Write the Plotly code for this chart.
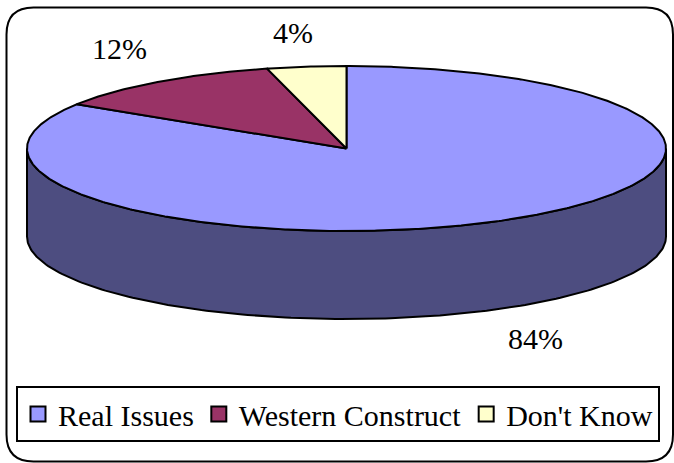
import numpy as np
import plotly.graph_objects as go

categories = ["Real Issues", "Western Construct", "Don't Know"]
values = [84, 12, 4]
colors = ["#9999FF", "#993366", "#FFFFCC"]
side_color = "#4D4D80"

W, H = 674, 463
CX, CY, RX, RY, DEPTH = 346.5, 148.5, 319.5, 82.5, 88
FONT = "Liberation Serif"
label_pos = [(535, 338), (119, 48), (293, 32)]


def rim(frac, dy=0.0):
    t = 2 * np.pi * np.asarray(frac)
    return CX + RX * np.sin(t), CY + dy - RY * np.cos(t)


fig = go.Figure()

# side wall: front half of the disc
f = np.linspace(0.25, 0.75, 181)
xt, yt = rim(f)
xb, yb = rim(f[::-1], DEPTH)
fig.add_trace(go.Scatter(
    x=np.r_[xt, xb, xt[0]], y=np.r_[yt, yb, yt[0]], mode="lines", fill="toself",
    fillcolor=side_color, line=dict(color="black", width=2),
    hoverinfo="skip", showlegend=False))

# top face slices, clockwise from 12 o'clock
fractions = np.array(values) / sum(values)
starts = np.r_[0, np.cumsum(fractions)[:-1]]
for s, fr, c in zip(starts, fractions, colors):
    ff = np.linspace(s, s + fr, max(int(fr * 720), 8))
    x, y = rim(ff)
    fig.add_trace(go.Scatter(
        x=np.r_[CX, x, CX], y=np.r_[CY, y, CY], mode="lines", fill="toself",
        fillcolor=c, line=dict(color="black", width=2),
        hoverinfo="skip", showlegend=False))

# legend entries
for name, c in zip(categories, colors):
    fig.add_trace(go.Scatter(
        x=[None], y=[None], mode="markers", name=name,
        marker=dict(symbol="square", size=15, color=c, line=dict(color="black", width=2))))

for v, (lx, ly) in zip(values, label_pos):
    fig.add_annotation(x=lx, y=ly, text=f"{v}%", showarrow=False,
                       font=dict(family=FONT, size=30, color="black"))

# rounded chart frame
L, T, R, B, r = 6.5, 7.5, 673, 461.5, 27
frame = (f"M {L+r} {T} L {R-r} {T} Q {R} {T} {R} {T+r} L {R} {B-r} Q {R} {B} {R-r} {B} "
         f"L {L+r} {B} Q {L} {B} {L} {B-r} L {L} {T+r} Q {L} {T} {L+r} {T} Z")
fig.add_shape(type="path", path=frame, line=dict(color="black", width=2), layer="below")

fig.update_layout(
    width=W, height=H, margin=dict(l=0, r=0, t=0, b=0),
    paper_bgcolor="white", plot_bgcolor="white",
    xaxis=dict(range=[0, W], visible=False, fixedrange=True),
    yaxis=dict(range=[H, 0], visible=False, fixedrange=True),
    showlegend=True,
    legend=dict(orientation="h", x=16 / W, y=1 - 386 / H, xanchor="left", yanchor="top",
                bgcolor="white", bordercolor="black", borderwidth=2,
                font=dict(family=FONT, size=30, color="black"), itemsizing="trace"),
)
fig.write_html("out.html", config={"displayModeBar": False},
               post_script="document.body.style.margin='0';document.body.style.overflow='hidden';")
